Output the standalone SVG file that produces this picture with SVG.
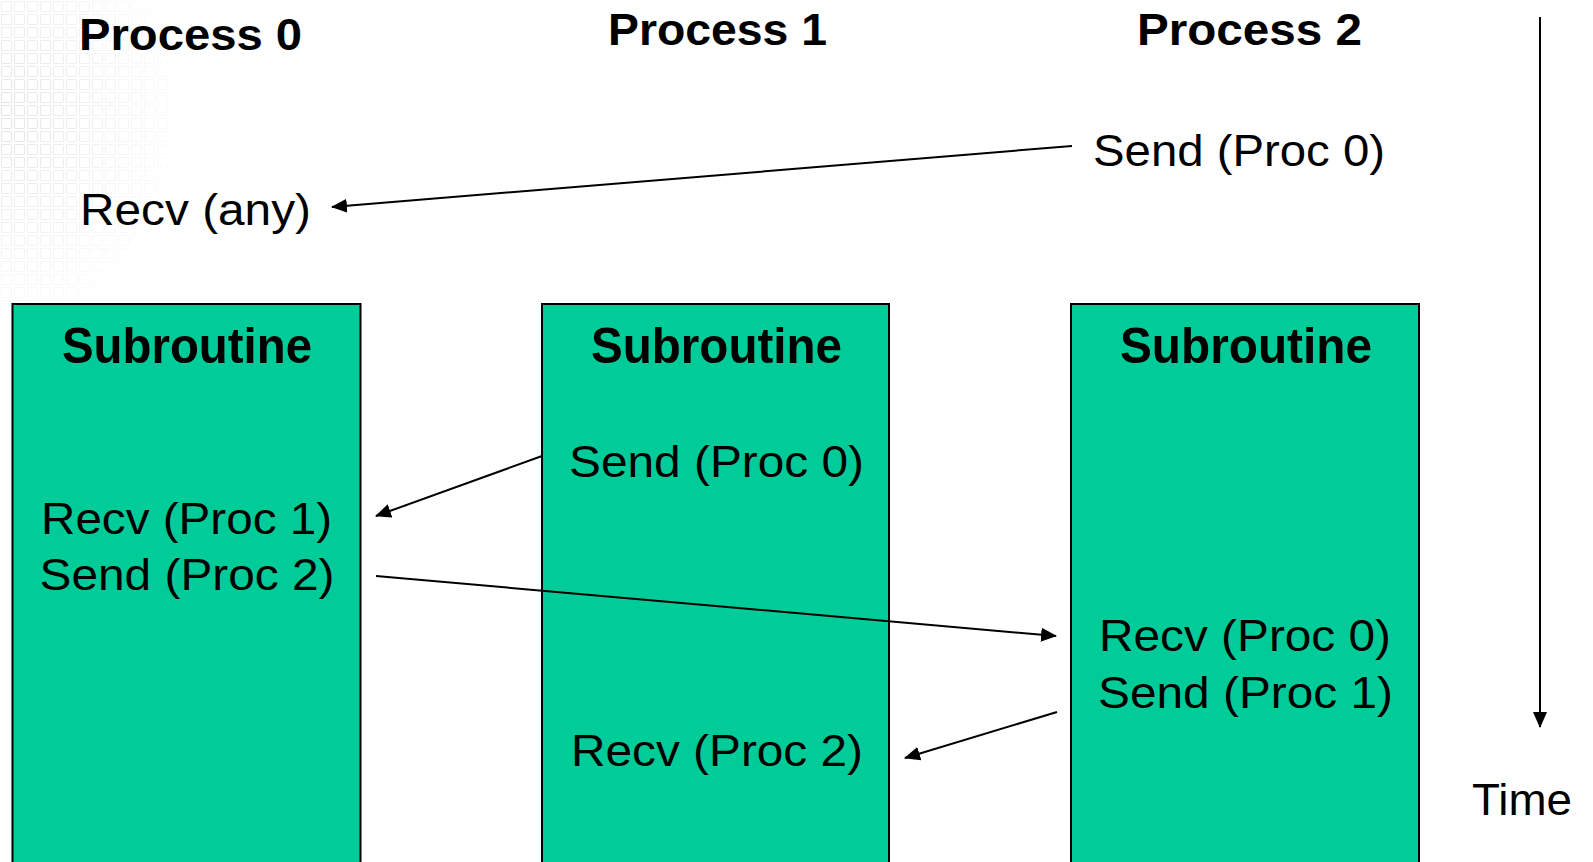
<svg xmlns="http://www.w3.org/2000/svg" width="1593" height="862" viewBox="0 0 1593 862">
  <style>
    .hdr { font-family: "Liberation Sans", Arial, sans-serif; font-weight: bold; font-size: 45px; fill: #000; }
    .sub { font-family: "Liberation Sans", Arial, sans-serif; font-weight: bold; font-size: 50px; fill: #000; }
    .lbl { font-family: "Liberation Sans", Arial, sans-serif; font-size: 45px; fill: #000; }
    .box { fill: #00CC99; stroke: #000; stroke-width: 2; }
    .msg { stroke: #000; stroke-width: 2; fill: none; marker-end: url(#head); }
  </style>
  <defs>
    <marker id="head" markerUnits="userSpaceOnUse" markerWidth="16" markerHeight="14" refX="15" refY="7" orient="auto">
      <path d="M0,0 L16,7 L0,14 z" fill="#000"/>
    </marker>
    <!-- faint tile texture in the upper-left corner -->
    <pattern id="tiles" width="13" height="13" patternUnits="userSpaceOnUse">
      <rect x="1.5" y="1.5" width="10" height="10" rx="1" fill="none" stroke="#dcdcdc" stroke-width="1.2"/>
    </pattern>
    <radialGradient id="fade" cx="0" cy="0.35" r="0.75">
      <stop offset="0" stop-color="#fff" stop-opacity="0.75"/>
      <stop offset="0.45" stop-color="#fff" stop-opacity="0.4"/>
      <stop offset="1" stop-color="#fff" stop-opacity="0"/>
    </radialGradient>
    <mask id="fadeMask">
      <rect x="0" y="0" width="260" height="320" fill="url(#fade)"/>
    </mask>
  </defs>

  <rect width="1593" height="862" fill="#fff"/>
  <rect x="0" y="0" width="260" height="320" fill="url(#tiles)" mask="url(#fadeMask)"/>

  <!-- column headers -->
  <g id="header-p0"><text class="hdr" x="79" y="50" textLength="223" lengthAdjust="spacingAndGlyphs">Process 0</text></g>
  <g id="header-p1"><text class="hdr" x="608" y="45" textLength="219" lengthAdjust="spacingAndGlyphs">Process 1</text></g>
  <g id="header-p2"><text class="hdr" x="1137" y="45" textLength="225" lengthAdjust="spacingAndGlyphs">Process 2</text></g>

  <!-- calls outside the subroutine -->
  <g id="p2-send"><text class="lbl" x="1093" y="166" textLength="292" lengthAdjust="spacingAndGlyphs">Send (Proc 0)</text></g>
  <g id="p0-recv"><text class="lbl" x="80" y="225" textLength="231" lengthAdjust="spacingAndGlyphs">Recv (any)</text></g>

  <!-- subroutine blocks -->
  <g id="sub-p0">
    <rect class="box" x="12.5" y="304" width="348" height="580"/>
    <text class="sub" x="62" y="363" textLength="250" lengthAdjust="spacingAndGlyphs">Subroutine</text>
    <text class="lbl" x="41" y="534" textLength="291" lengthAdjust="spacingAndGlyphs">Recv (Proc 1)</text>
    <text class="lbl" x="39.5" y="590" textLength="295" lengthAdjust="spacingAndGlyphs">Send (Proc 2)</text>
  </g>
  <g id="sub-p1">
    <rect class="box" x="542" y="304" width="347" height="580"/>
    <text class="sub" x="591" y="363" textLength="251" lengthAdjust="spacingAndGlyphs">Subroutine</text>
    <text class="lbl" x="569" y="477" textLength="295" lengthAdjust="spacingAndGlyphs">Send (Proc 0)</text>
    <text class="lbl" x="571" y="766" textLength="292" lengthAdjust="spacingAndGlyphs">Recv (Proc 2)</text>
  </g>
  <g id="sub-p2">
    <rect class="box" x="1071" y="304" width="348" height="580"/>
    <text class="sub" x="1120" y="363" textLength="252" lengthAdjust="spacingAndGlyphs">Subroutine</text>
    <text class="lbl" x="1099" y="651" textLength="292" lengthAdjust="spacingAndGlyphs">Recv (Proc 0)</text>
    <text class="lbl" x="1098" y="708" textLength="295" lengthAdjust="spacingAndGlyphs">Send (Proc 1)</text>
  </g>

  <!-- time axis -->
  <g id="time">
    <text class="lbl" x="1472" y="815" textLength="100" lengthAdjust="spacingAndGlyphs">Time</text>
  </g>

  <!-- messages -->
  <g id="connectors">
    <line class="msg" x1="1072" y1="146" x2="332" y2="207"/>
    <line class="msg" x1="542" y1="456" x2="376" y2="516"/>
    <line class="msg" x1="376" y1="576" x2="1056" y2="636"/>
    <line class="msg" x1="1057" y1="712" x2="905" y2="758"/>
    <line class="msg" x1="1540" y1="17" x2="1540" y2="727"/>
  </g>
</svg>
